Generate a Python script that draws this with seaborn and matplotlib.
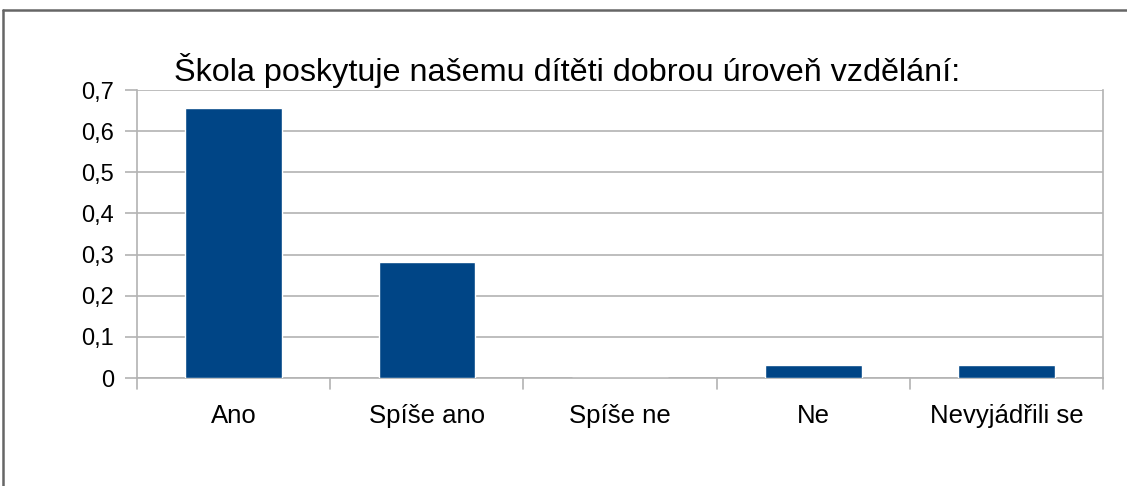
import matplotlib
matplotlib.use("Agg")
import matplotlib.pyplot as plt
import seaborn as sns
import pandas as pd
from matplotlib.lines import Line2D

categories = ["Ano", "Spíše ano", "Spíše ne", "Ne", "Nevyjádřili se"]
values = [0.656, 0.281, 0.0, 0.031, 0.031]
yticks = [0, 0.1, 0.2, 0.3, 0.4, 0.5, 0.6, 0.7]
ytick_labels = ["0", "0,1", "0,2", "0,3", "0,4", "0,5", "0,6", "0,7"]
title = "Škola poskytuje našemu dítěti dobrou úroveň vzdělání:"

sns.set_style("white")
plt.rcParams['font.family'] = ['Liberation Sans', 'DejaVu Sans']

W, H = 1127, 486
fig = plt.figure(figsize=(W / 100, H / 100), dpi=100)
ax = fig.add_axes([137 / W, (H - 378) / H, 966 / W, 288 / H])

df = pd.DataFrame({"cat": categories, "val": values})
sns.barplot(data=df, x="cat", y="val", color="#004586", saturation=1,
            width=0.5, ax=ax, zorder=3)

ax.set_xlim(-0.5, len(categories) - 0.5)
ax.set_ylim(0, 0.7)
ax.set_yticks(yticks)
ax.set_yticklabels(ytick_labels, fontsize=17, color="black")
ax.set_xlabel("")
ax.set_ylabel("")
ax.set_xticks(range(len(categories)))
ax.set_xticklabels(categories, fontsize=18.5, color="black")
ax.tick_params(axis="x", length=0, pad=18.5)
ax.tick_params(axis="y", length=8.6, width=1.2, color="#b3b3b3", pad=8, left=True)
ax.grid(axis="y", color="#b3b3b3", linewidth=1.2, zorder=0)
for s in ["top", "right", "bottom", "left"]:
    ax.spines[s].set_visible(True)
    ax.spines[s].set_color("#b3b3b3")
    ax.spines[s].set_linewidth(1.2)
ax.spines["top"].set_visible(False)

# category boundary ticks below the axis
for b in [i - 0.5 for i in range(len(categories) + 1)]:
    ax.plot([b, b], [0, -0.027], color="#b3b3b3", lw=1.2, clip_on=False, zorder=2)

fig.text(567 / W, 1 - 70 / H, title, ha="center", va="center", fontsize=23.3, color="black")

# outer frame (top and left)
fig.add_artist(Line2D([3 / W, 3 / W], [0, 1 - 10 / H], transform=fig.transFigure, color="#666666", lw=1.8))
fig.add_artist(Line2D([3 / W, 1], [1 - 10 / H, 1 - 10 / H], transform=fig.transFigure, color="#666666", lw=1.8))

fig.savefig("out.png", dpi=100)
